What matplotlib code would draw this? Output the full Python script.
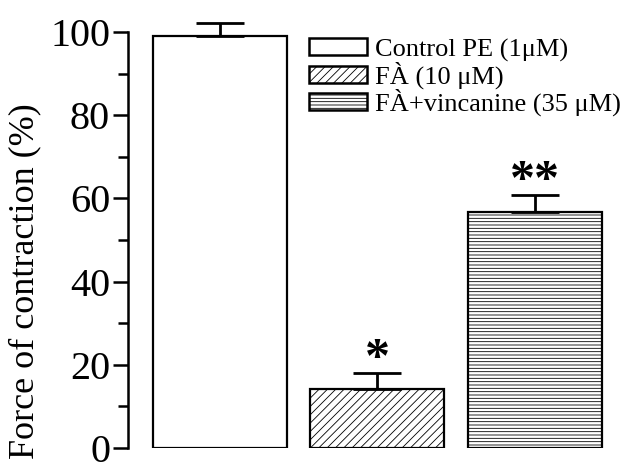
import matplotlib.pyplot as plt
import matplotlib as mpl

mpl.rcParams["font.family"] = ["Liberation Serif", "DejaVu Serif"]
mpl.rcParams["hatch.linewidth"] = 0.6

labels = ["Control PE (1\u03bcM)", "F\u00c0 (10 \u03bcM)", "F\u00c0+vincanine (35 \u03bcM)"]
values = [99.0, 14.2, 56.8]
errors = [3.2, 3.8, 4.0]
stars = ["", "*", "**"]
hatches = ["", "////", "-----"]

fig = plt.figure(figsize=(6.22, 4.72), dpi=100)
ax = fig.add_axes([0.206, 0.051, 0.781, 0.881])

x = range(len(values))
bars = ax.bar(x, values, width=0.85, color="white", edgecolor="black",
              linewidth=1.6, label=labels)
for b, h in zip(bars, hatches):
    b.set_hatch(h)
eb = ax.errorbar(x, values, yerr=[[0] * 3, errors], fmt="none", ecolor="black",
                 elinewidth=2, capsize=17, capthick=2)
for artist in eb.lines[1] + eb.lines[2]:
    artist.set_clip_on(False)
for xi, v, e, s in zip(x, values, errors, stars):
    if s:
        ax.text(xi, v + e - 2.3, s, ha="center", va="bottom", fontsize=36,
                fontweight="bold")

ax.set_xlim(-0.58, 2.5)
ax.set_ylim(0, 100)
for side in ["top", "right", "bottom"]:
    ax.spines[side].set_visible(False)
ax.spines["left"].set_linewidth(1.8)
ax.set_xticks([])
ax.set_yticks([0, 20, 40, 60, 80, 100])
ax.set_yticks(range(10, 100, 20), minor=True)
ax.tick_params(axis="y", which="major", length=11, width=1.8, labelsize=29, pad=2)
ax.tick_params(axis="y", which="minor", length=7, width=1.8)
ax.set_ylabel("Force of contraction (%)", fontsize=26)
ax.yaxis.set_label_coords(-0.178, 0.4)

leg = ax.legend(bars, labels, loc="upper left", bbox_to_anchor=(0.35, 1.01),
                frameon=False, fontsize=19, handlelength=2.2, handleheight=0.6,
                labelspacing=0.0, handletextpad=0.3, borderaxespad=0.0)
for p in leg.get_patches():
    p.set_linewidth(1.8)

fig.savefig("out.png", dpi=100)
